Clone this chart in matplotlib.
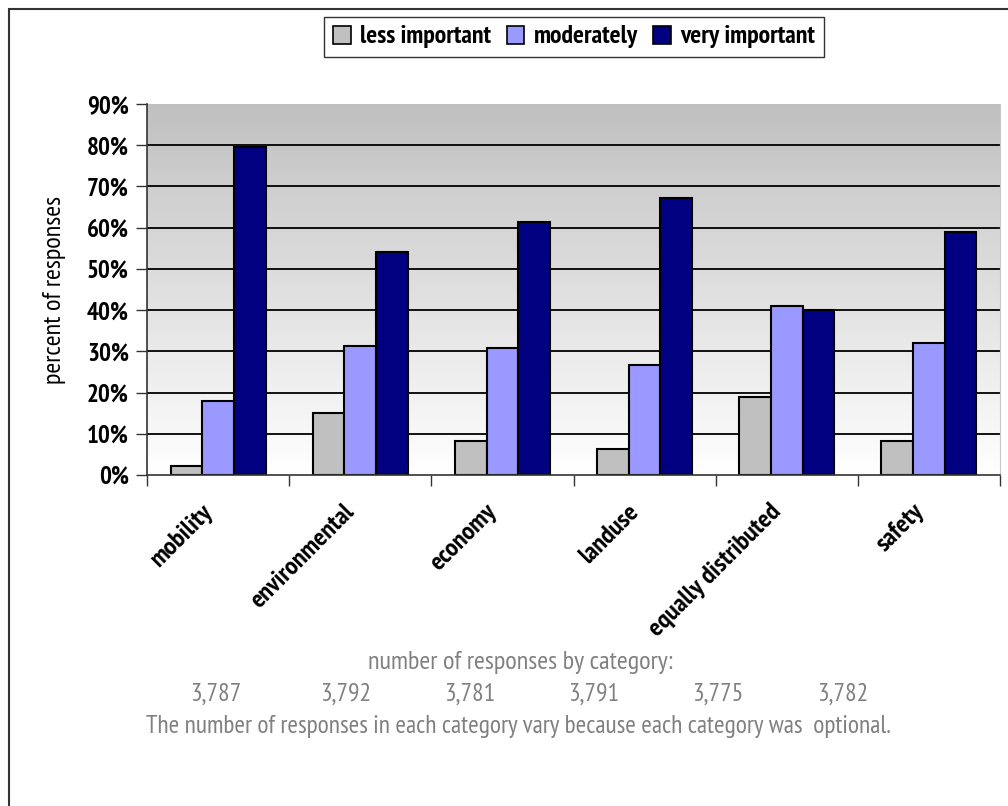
import numpy as np
import matplotlib
matplotlib.use("Agg")
import matplotlib.pyplot as plt
from matplotlib import font_manager as fm
from matplotlib.patches import Rectangle, Patch

categories = ["mobility", "environmental", "economy", "landuse",
              "equally distributed", "safety"]
less_important = [2.3, 15.1, 8.2, 6.3, 19.0, 8.2]
moderately = [17.9, 31.2, 30.7, 26.8, 40.9, 32.1]
very_important = [79.5, 54.1, 61.4, 67.3, 40.0, 59.0]
response_counts = ["3,787", "3,792", "3,781", "3,791", "3,775", "3,782"]
y_ticks = [0, 10, 20, 30, 40, 50, 60, 70, 80, 90]

series = [("less important", less_important, "#c0c0c0"),
          ("moderately", moderately, "#9999ff"),
          ("very important", very_important, "#000080")]

# pick an installed narrow sans-serif family
available = {f.name for f in fm.fontManager.ttflist}
preferred = ["PT Sans Narrow", "Fira Sans Condensed", "IBM Plex Sans Condensed",
             "Barlow Semi Condensed", "Asap Condensed", "Liberation Sans"]
NARROW = [f for f in preferred if f in available][:1] + ["DejaVu Sans"]

fig = plt.figure(figsize=(10.08, 8.06), dpi=100)
W, H = 1008, 806

# outer chart border
fig.add_artist(Rectangle((8.5 / W, -0.05), 1.2, 1 - 9.5 / H + 0.05,
                         transform=fig.transFigure, fill=False,
                         edgecolor="#333333", linewidth=1.5))

ax = fig.add_axes([147 / W, 1 - 475 / H, (1000 - 147) / W, (475 - 104) / H])

# vertical grey-to-white gradient background
grad = np.linspace(0, 1, 256).reshape(-1, 1)
cmap = matplotlib.colors.LinearSegmentedColormap.from_list("bg", ["#ffffff", "#c0c0c0"])
ax.imshow(grad, extent=[0, 6, 0, 90], origin="lower", aspect="auto",
          cmap=cmap, zorder=0)

for yv in y_ticks[1:-1]:
    ax.axhline(yv, color="black", linewidth=1.3, zorder=1)

n = len(categories)
x = np.arange(n) + 0.5
bw = 0.223
for i, (name, vals, col) in enumerate(series):
    ax.bar(x + (i - 1) * bw, vals, width=bw, color=col, edgecolor="black",
           linewidth=1.5, zorder=2, label=name)

ax.set_xlim(0, 6)
ax.set_ylim(0, 90)
ax.set_yticks(y_ticks)
ax.set_yticklabels([f"{v}%" for v in y_ticks], fontfamily=NARROW,
                   fontweight="bold", fontsize=18)
ax.set_xticks(range(n + 1))
ax.set_xticklabels([])
ax.tick_params(axis="both", direction="out", length=8, width=1, color="#333333")
ax.tick_params(axis="y", pad=5)

for xi, lab in zip(x, categories):
    ax.text(xi - 0.12, -6.0, lab, rotation=45, ha="right", va="top",
            rotation_mode="anchor", fontfamily=NARROW, fontweight="bold",
            fontsize=19, transform=ax.transData, clip_on=False)

ax.spines["top"].set_visible(False)
ax.spines["right"].set_color("#c8c8c8")
for s in ["left", "bottom"]:
    ax.spines[s].set_color("#333333")
    ax.spines[s].set_linewidth(1.2)

ax.set_ylabel("percent of responses", fontfamily=NARROW, fontsize=19,
              labelpad=15)

handles = [Patch(facecolor=c, edgecolor="black", linewidth=1.2) for _, _, c in series]
leg = fig.legend(handles, [s[0] for s in series], loc="center",
                 bbox_to_anchor=(574 / W, 1 - 37 / H), ncol=3, frameon=True,
                 fancybox=False, edgecolor="black", handlelength=0.7,
                 handleheight=0.7, handletextpad=0.35, columnspacing=0.6,
                 borderpad=0.35,
                 prop={"family": NARROW, "weight": "bold", "size": 18.5})
leg.get_frame().set_linewidth(1.0)

grey = "#808080"
fig.text(520 / W, 1 - 662 / H, "number of responses by category:",
         ha="center", va="center", color=grey, fontfamily=NARROW, fontsize=19)
count_x = [216, 346, 470, 594, 718, 843]
for cx, c in zip(count_x, response_counts):
    fig.text(cx / W, 1 - 694 / H, c, ha="center", va="center", color=grey,
             fontfamily=NARROW, fontsize=18.5)
fig.text(518 / W, 1 - 726 / H,
         "The number of responses in each category vary because each category was  optional.",
         ha="center", va="center", color=grey, fontfamily=NARROW, fontsize=18.3)

fig.savefig("out.png", dpi=100)
